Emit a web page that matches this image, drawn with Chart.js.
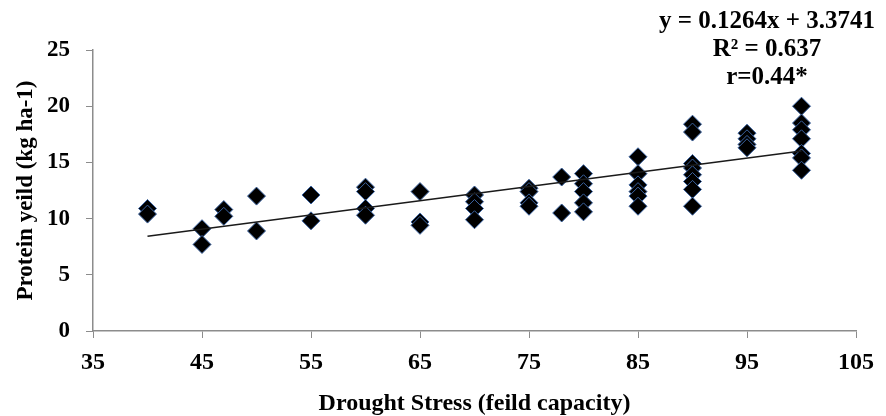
<!DOCTYPE html>
<html>
<head>
<meta charset="utf-8">
<script src="https://cdn.jsdelivr.net/npm/chart.js@4/dist/chart.umd.min.js"></script>
<style>
  html, body { margin: 0; padding: 0; background: #fff; }
  #wrap { width: 886px; height: 416px; }
</style>
</head>
<body>
<div id="wrap"><canvas id="chart-scatter" width="886" height="416"></canvas></div>
<script>
// drought stress level (% field capacity) and protein yield per plot
var stressX = [
  40, 40,
  45, 45,
  47, 47,
  50, 50,
  55, 55,
  60, 60, 60, 60,
  65, 65, 65,
  70, 70, 70, 70,
  75, 75, 75, 75,
  78, 78,
  80, 80, 80, 80, 80,
  85, 85, 85, 85, 85, 85,
  90, 90, 90, 90, 90, 90, 90, 90,
  95, 95, 95, 95,
  100, 100, 100, 100, 100, 100, 100
];
var proteinY = [
  10.9, 10.4,
  9.1, 7.7,
  10.8, 10.2,
  12.0, 8.9,
  12.1, 9.8,
  12.8, 12.4, 10.9, 10.3,
  12.4, 9.7, 9.4,
  12.1, 11.5, 10.9, 9.9,
  12.7, 12.4, 11.4, 11.1,
  13.7, 10.5,
  14.0, 13.1, 12.4, 11.4, 10.6,
  15.5, 14.0, 13.0, 12.4, 12.0, 11.1,
  18.4, 17.7, 14.9, 14.5, 13.9, 13.3, 12.6, 11.1,
  17.6, 17.1, 16.6, 16.3,
  20.0, 18.5, 17.9, 17.1, 15.8, 15.4, 14.3
];

// linear fit reported on the chart
var fitSlope = 0.1264;
var fitIntercept = 3.3741;
var fitRange = [40, 100];
var fitLabels = ['y = 0.1264x + 3.3741', 'R\u00b2 = 0.637', 'r=0.44*'];

var xTicks = [35, 45, 55, 65, 75, 85, 95, 105];
var yTicks = [0, 5, 10, 15, 20, 25];

var serif = '"Liberation Serif", "Times New Roman", serif';
var axisGray = '#8c8c8c';

var points = stressX.map(function(x, i) { return { x: x, y: proteinY[i] }; });
var fitLine = fitRange.map(function(x) { return { x: x, y: fitSlope * x + fitIntercept }; });

// equation block in the top right corner
var fitText = {
  id: 'fitText',
  afterDraw: function(chart) {
    var ctx = chart.ctx;
    ctx.save();
    ctx.fillStyle = '#000';
    ctx.font = 'bold 25px ' + serif;
    ctx.textAlign = 'center';
    ctx.textBaseline = 'alphabetic';
    fitLabels.forEach(function(line, i) {
      ctx.fillText(line, 767, 28 + i * 28);
    });
    ctx.restore();
  }
};

var Scatter = function() {
  var el = document.getElementById('chart-scatter');
  if (!el) return;

  new Chart(el, {
    type: 'scatter',
    data: {
      datasets: [{
        label: 'Protein yield',
        data: points,
        pointStyle: 'rectRot',
        pointRadius: 9,
        pointHoverRadius: 9,
        backgroundColor: '#000000',
        borderColor: '#3b63a0',
        borderWidth: 1,
        order: 2
      }, {
        type: 'line',
        label: 'Linear fit',
        data: fitLine,
        borderColor: '#1a1a1a',
        borderWidth: 1.6,
        pointRadius: 0,
        fill: false,
        order: 1
      }]
    },
    options: {
      responsive: false,
      devicePixelRatio: 1,
      animation: false,
      layout: { padding: { top: 50, right: 30, bottom: 0, left: 0 } },
      plugins: {
        legend: { display: false },
        tooltip: { enabled: false }
      },
      scales: {
        x: {
          type: 'linear',
          min: 35,
          max: 105,
          afterBuildTicks: function(scale) {
            scale.ticks = xTicks.map(function(v) { return { value: v }; });
          },
          afterFit: function(scale) { scale.height = 85; },
          grid: {
            display: true,
            drawOnChartArea: false,
            drawTicks: true,
            tickLength: 7,
            color: axisGray
          },
          border: { color: axisGray, width: 1.5 },
          ticks: {
            color: '#000',
            padding: 10,
            maxRotation: 0,
            font: { family: serif, size: 24, weight: 'bold' }
          },
          title: {
            display: true,
            text: 'Drought Stress (feild capacity)',
            color: '#000',
            padding: { top: 0, bottom: 0 },
            font: { family: serif, size: 24, weight: 'bold', lineHeight: 1 }
          }
        },
        y: {
          min: 0,
          max: 25,
          afterBuildTicks: function(scale) {
            scale.ticks = yTicks.map(function(v) { return { value: v }; });
          },
          afterFit: function(scale) { scale.width = 93; },
          grid: {
            display: true,
            drawOnChartArea: false,
            drawTicks: true,
            tickLength: 7,
            color: axisGray
          },
          border: { color: axisGray, width: 1.5 },
          ticks: {
            color: '#000',
            padding: 16,
            font: { family: serif, size: 23, weight: 'bold' }
          },
          title: {
            display: true,
            text: 'Protein yeild (kg ha-1)',
            color: '#000',
            padding: { top: 12, bottom: 0 },
            font: { family: serif, size: 23, weight: 'bold' }
          }
        }
      }
    },
    plugins: [fitText]
  });
};

Scatter();
</script>
</body>
</html>
